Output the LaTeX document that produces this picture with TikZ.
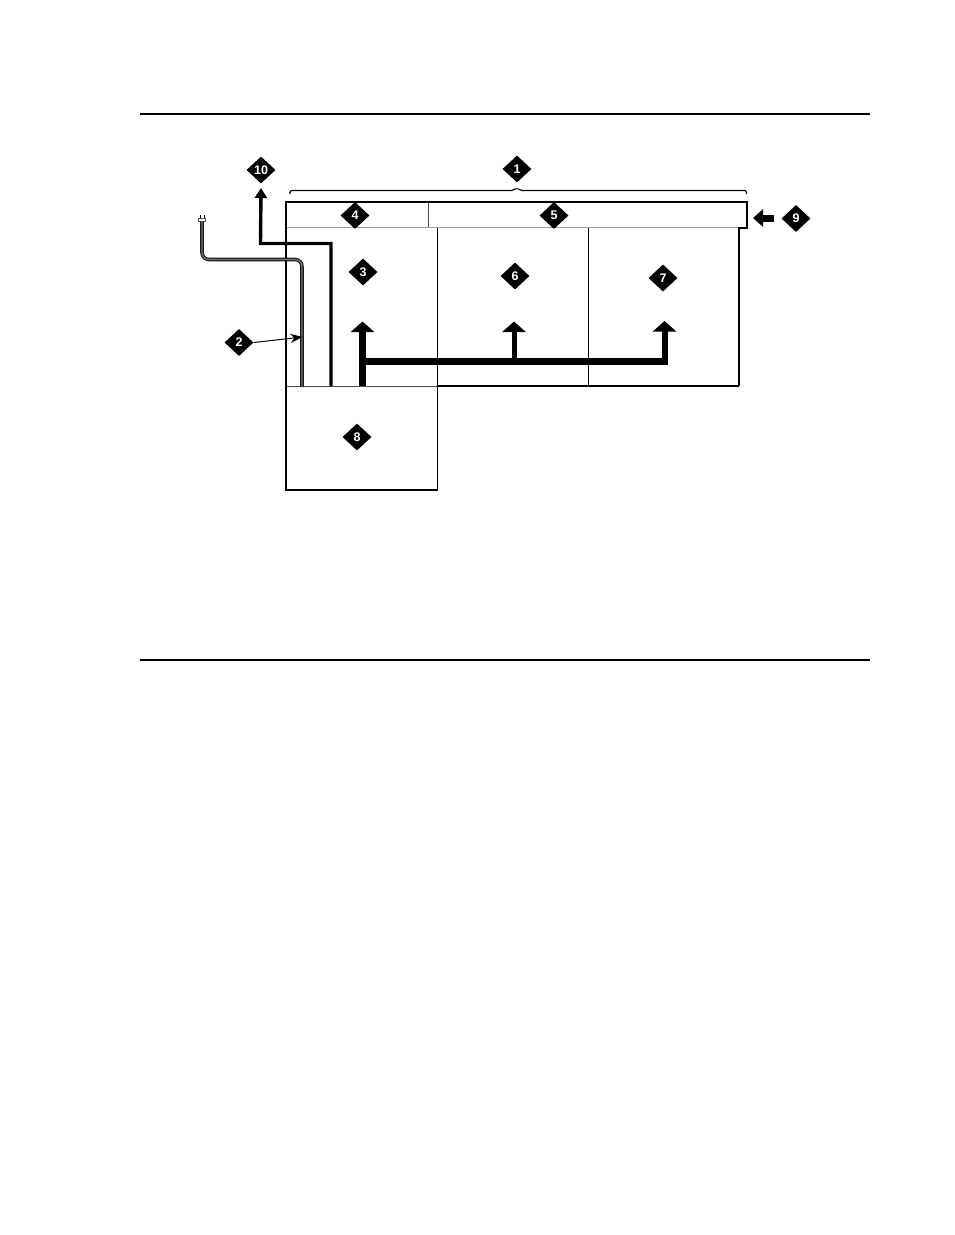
\documentclass[tikz,border=0pt]{standalone}
\usepackage{fontspec}
\setmainfont{Liberation Sans}
\usetikzlibrary{shapes.geometric,arrows.meta}
\tikzset{
  x=1pt,y=-1pt,
  callout/.style={diamond,fill=black,text=white,draw=none,inner sep=0pt,minimum width=29pt,minimum height=27pt,font=\fontsize{12.5}{12.5}\selectfont\bfseries},
  rulebar/.style={line width=2pt,black},
  boxline/.style={line width=2pt,black},
  thinline/.style={line width=1.1pt,black},
  bus/.style={line width=#1,black,line cap=butt,line join=miter},
  bighead/.style={-{Triangle[width=23pt,length=10.5pt]}},
}
\begin{document}
\begin{tikzpicture}
\useasboundingbox (0,0) rectangle (954,1235);
\fill[white] (0,0) rectangle (954,1235);
% page rules
\draw[rulebar] (140,114) -- (870,114);
\draw[rulebar] (140,660) -- (870,660);
% coordinates
\coordinate (tl) at (286,201.5);
\coordinate (tr) at (746.8,201.5);
\coordinate (rt) at (739.2,228);
\coordinate (rb) at (739.2,386);
\coordinate (ml) at (286,386);
\coordinate (mb) at (437.6,386);
\coordinate (bl) at (286,489.5);
\coordinate (br) at (437.6,489.5);
% partitions
\draw[thinline] (437.6,228) -- (mb);
\draw[thinline] (588.6,228) -- (588.6,386);
\draw[line width=1.2pt,black!70] (428.7,202) -- (428.7,227);
\draw[line width=1.6pt,black!38] (287,227.3) -- (746,227.3);
\draw[line width=1pt,black!70] (ml) -- (mb);
% outline
\draw[boxline,line join=miter] (rb) -- (mb);
\draw[line width=1.5pt,line join=miter] (mb) -- (br);
\draw[boxline,line join=miter] (br) -- (bl) -- (tl) -- (tr) -- (746.8,228) -- (rt) -- (rb);
% brace
\draw[line width=1.2pt,rounded corners=2pt] (290,194) -- (290,190.5) -- (513.5,190.5) -- (516.8,187.5) -- (520,190.5) -- (746.5,190.5) -- (746.5,194);
% cord
\coordinate (plug) at (202,221);
\coordinate (cordend) at (302,387);
\draw[line width=3.6pt,black!90,rounded corners=7pt] (plug) -- (202,259.5) -- (302,259.5) -- (cordend);
\draw[line width=1.4pt,black!55,rounded corners=7pt] (plug) -- (202,259.5) -- (302,259.5) -- (cordend);
\draw[line width=.9pt,black!70] (198.8,218.5) rectangle (205.2,221.5);
\draw[line width=1pt] (200,218) -- (200,215) (204,218) -- (204,215);
% callouts
\node[callout] (n1) at (517,169) {1};
\node[callout] (n10) at (261,170) {10};
\node[callout] (n4) at (355,215.5) {4};
\node[callout] (n5) at (554,215.5) {5};
\node[callout] (n3) at (363,272) {3};
\node[callout] (n6) at (515,276) {6};
\node[callout] (n7) at (663,278) {7};
\node[callout] (n8) at (357,437) {8};
\node[callout] (n2) at (239,342.5) {2};
\node[callout] (n9) at (796,218.5) {9};
% thick cable to 10
\coordinate (cab) at (331,386);
\coordinate (captip) at (261,188);
\draw[line width=3.4pt,line join=miter,-{Triangle[width=12pt,length=10pt]}] (cab) -- (331,243.5) -- (260.5,243.5) -- (captip);
% arrow from 2
\coordinate (cordpt) at (302.5,337);
\draw[line width=1pt,-{Stealth[width=9pt,length=12pt]}] (n2.east) -- (cordpt);
% bus arrows
\coordinate (b1) at (362.5,386);
\coordinate (t1) at (362.5,321.5);
\coordinate (j2) at (514,361.5);
\coordinate (t2) at (514,321.5);
\coordinate (c3) at (664.5,365);
\coordinate (t3) at (664.5,321);
\draw[bus=7pt,bighead] (b1) -- (t1);
\draw[bus=5pt,bighead] (j2) -- (t2);
\draw[bus=6pt,bighead] (c3) -- (t3);
\draw[bus=7pt] (359,361.5) -- (667.5,361.5);
% arrow 9
\coordinate (n9s) at (774,218);
\coordinate (n9t) at (753,218);
\draw[line width=7pt,-{Triangle[width=17pt,length=10pt]}] (n9s) -- (n9t);
\end{tikzpicture}
\end{document}
